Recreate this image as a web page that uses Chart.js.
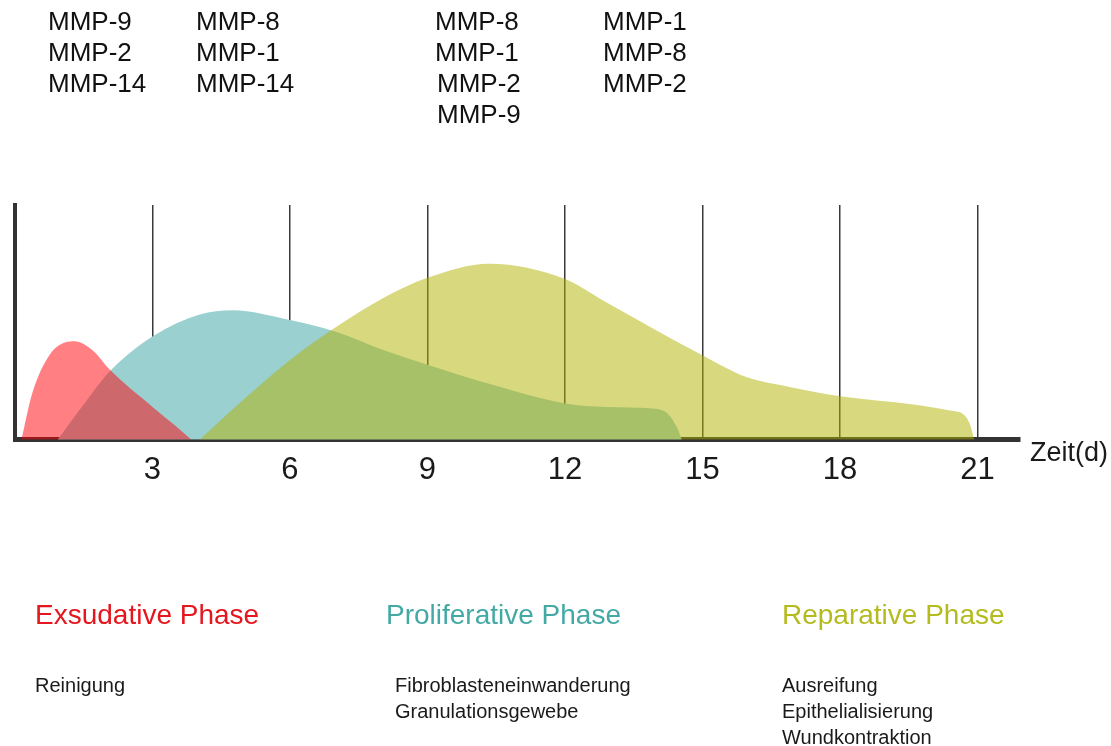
<!DOCTYPE html>
<html>
<head>
<meta charset="utf-8">
<script src="https://cdn.jsdelivr.net/npm/chart.js@4"></script>
<style>
  html,body{margin:0;padding:0;background:#fff;}
  #wrap{position:relative;width:1111px;height:746px;overflow:hidden;}
  canvas{position:absolute;left:0;top:0;}
  .t{position:absolute;white-space:nowrap;font-family:"Liberation Sans",Arial,sans-serif;line-height:1;}
</style>
</head>
<body>
<div id="wrap">
<canvas id="c" width="1111" height="746"></canvas>
</div>
<script>
// ---- data (day, relative level) ----
const exsudativeDays   = [0.14, 0.38, 0.75, 1.1,  1.3, 1.7, 2.06, 3.0, 3.5, 3.85];
const exsudativeLevels = [0,    20,   36,   41.5, 42,  38,  30,   14,  6,   0];

const proliferativeDays   = [0.93, 1.48, 2.06, 3.0, 4.03, 4.75, 6.0, 7.0, 8.0,  9.0, 10.5, 12.0, 12.9, 13.9, 14.25, 14.45, 14.55];
const proliferativeLevels = [0,    14.6, 29,   44,  53.4, 55.2, 51,  46,  38.5, 32,  23,   15.5, 14,   13.3, 11,    5,     0];

const reparativeDays   = [4.03, 4.75, 6.0, 7.08, 8.0, 9.0, 10.35, 12.0, 12.9, 15.0, 15.96, 16.9, 18.0, 19.6, 20.4, 20.7, 20.85, 20.93];
const reparativeLevels = [0,    13,   34,  49,   60,  69,  75,    68.5, 58.6, 36,   26.7,  22.5, 18.5, 15,   12.5, 10.8, 6,     0];

const dayTicks = [3, 6, 9, 12, 15, 18, 21];
const axisMaxDay = 21.93;

const mmpGroups = [
  ["MMP-9", "MMP-2", "MMP-14"],
  ["MMP-8", "MMP-1", "MMP-14"],
  ["MMP-8", "MMP-1", "MMP-2", "MMP-9"],
  ["MMP-1", "MMP-8", "MMP-2"]
];
const phaseNames = ["Exsudative Phase", "Proliferative Phase", "Reparative Phase"];
const phaseItems = [
  ["Reinigung"],
  ["Fibroblasteneinwanderung", "Granulationsgewebe"],
  ["Ausreifung", "Epithelialisierung", "Wundkontraktion"]
];
const axisTitle = "Zeit(d)";

// ---- build points ----
const pts = (xs, ys) => xs.map((x, i) => ({x: x, y: ys[i]}));

const ds = (data, color) => ({
  data: data, fill: 'origin', backgroundColor: color, borderWidth: 0,
  pointRadius: 0, pointHoverRadius: 0, cubicInterpolationMode: 'monotone'
});

new Chart(document.getElementById('c'), {
  type: 'line',
  data: {
    datasets: [
      ds(pts(exsudativeDays, exsudativeLevels), 'rgba(255,0,8,0.5)'),
      ds(pts(reparativeDays, reparativeLevels), 'rgba(177,177,0,0.5)'),
      ds(pts(proliferativeDays, proliferativeLevels), '#9AD0D0')
    ]
  },
  options: {
    responsive: false,
    animation: false,
    events: [],
    layout: {padding: {top: 205, left: 15, right: 91, bottom: 245}},
    plugins: {legend: {display: false}, tooltip: {enabled: false}},
    scales: {
      x: {
        type: 'linear', min: 0, max: axisMaxDay, z: 1,
        afterBuildTicks: (axis) => { axis.ticks = dayTicks.map(v => ({value: v})); },
        grid: {color: '#3a3a3a', lineWidth: 1.5, drawTicks: false},
        border: {color: '#333', width: 5},
        ticks: {
          padding: 12, color: '#1a1a1a', maxRotation: 0, autoSkip: false,
          font: {family: "'Liberation Sans', Arial, sans-serif", size: 31}
        }
      },
      y: {
        type: 'linear', min: 0, max: 100, z: 1,
        grid: {display: false, drawTicks: false},
        border: {color: '#333', width: 4},
        ticks: {display: false}
      }
    }
  }
});

// ---- text annotations ----
const wrap = document.getElementById('wrap');
function addText(str, left, baseline, size, color) {
  const d = document.createElement('div');
  d.className = 't';
  d.textContent = str;
  d.style.left = left + 'px';
  d.style.top = (baseline - 0.8465 * size) + 'px';
  d.style.fontSize = size + 'px';
  d.style.color = color;
  wrap.appendChild(d);
}
const mmpX = [48, 196, 435, 603];
const mmpBase = [30, 61, 92, 123];
mmpGroups.forEach((g, gi) => g.forEach((s, si) => {
  const x = mmpX[gi] + (gi === 2 && si >= 2 ? 2 : 0);
  addText(s, x, mmpBase[si], 26, '#111');
}));
const phaseX = [35, 386, 782];
const phaseColors = ['#E5161E', '#43A9A5', '#B4BB1E'];
phaseNames.forEach((n, i) => addText(n, phaseX[i], 625, 28, phaseColors[i]));
const itemX = [35, 395, 782];
const itemBase = [692, 718, 744];
phaseItems.forEach((g, gi) => g.forEach((s, si) => addText(s, itemX[gi], itemBase[si], 20, '#1a1a1a')));
addText(axisTitle, 1030, 462, 27, '#1a1a1a');
</script>
</body>
</html>
